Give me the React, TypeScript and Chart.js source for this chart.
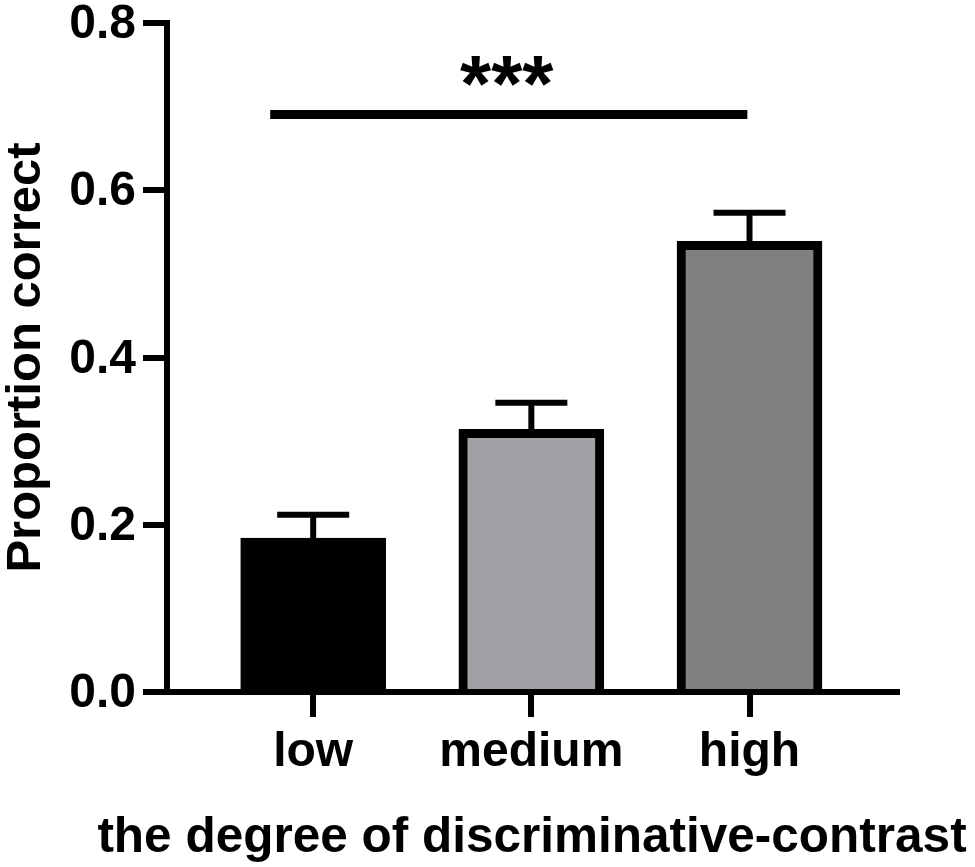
import React, { useEffect, useRef } from "react";
import { Chart, registerables } from "chart.js";

Chart.register(...registerables);

const categories = ["low", "medium", "high"];
const means = [0.184, 0.314, 0.539];
const errors = [0.028, 0.032, 0.034];
const barColors = ["#000000", "#a2a1a6", "#808080"];
const yTicks = [0, 0.2, 0.4, 0.6, 0.8];
const sigFrom = -0.197;
const sigTo = 1.99;
const sigLevel = 0.6906;
const sigLabel = "***";
const xTitle = "the degree of discriminative-contrast";
const yTitle = "Proportion correct";

const FONT = "'Liberation Sans', Arial, sans-serif";

const annotationPlugin = {
  id: "errorAndSig",
  afterDatasetsDraw(chart: any) {
    const { ctx } = chart;
    const x = chart.scales.x;
    const y = chart.scales.y;
    ctx.save();
    ctx.strokeStyle = "#000";
    ctx.lineCap = "butt";
    ctx.lineWidth = 6;
    categories.forEach((_, i) => {
      const px = x.getPixelForValue(i);
      const top = y.getPixelForValue(means[i]);
      const et = y.getPixelForValue(means[i] + errors[i]);
      ctx.beginPath();
      ctx.moveTo(px, top);
      ctx.lineTo(px, et);
      ctx.stroke();
      ctx.beginPath();
      ctx.moveTo(px - 36, et);
      ctx.lineTo(px + 36, et);
      ctx.stroke();
    });
    const sy = y.getPixelForValue(sigLevel);
    const sx1 = x.getPixelForValue(sigFrom);
    const sx2 = x.getPixelForValue(sigTo);
    ctx.lineWidth = 9;
    ctx.beginPath();
    ctx.moveTo(sx1, sy);
    ctx.lineTo(sx2, sy);
    ctx.stroke();
    ctx.fillStyle = "#000";
    ctx.font = `bold 80px ${FONT}`;
    ctx.textAlign = "center";
    ctx.textBaseline = "alphabetic";
    ctx.fillText(sigLabel, (sx1 + sx2) / 2 - 2, sy - 3);
    ctx.restore();
  },
  afterDraw(chart: any) {
    const { ctx, chartArea } = chart;
    ctx.save();
    ctx.fillStyle = "#000";
    ctx.font = `bold 49.5px ${FONT}`;
    ctx.textAlign = "center";
    ctx.textBaseline = "alphabetic";
    ctx.fillText(xTitle, (chartArea.left + chartArea.right) / 2, chart.height - 15);
    ctx.restore();
  },
};

export default function App() {
  const ref = useRef<HTMLCanvasElement | null>(null);
  useEffect(() => {
    if (!ref.current) return;
    Chart.defaults.font.family = FONT;
    const chart = new Chart(ref.current, {
      type: "bar",
      data: {
        datasets: [
          {
            data: means.map((v, i) => ({ x: i, y: v })),
            backgroundColor: barColors,
            borderColor: "#000000",
            borderWidth: 9,
            barThickness: 145,
          } as any,
        ],
      },
      options: {
        animation: false,
        responsive: true,
        maintainAspectRatio: false,
        layout: { padding: { top: 23, right: 78, left: 0, bottom: 0 } },
        plugins: { legend: { display: false }, tooltip: { enabled: false } },
        scales: {
          x: {
            type: "linear",
            offset: false,
            min: -0.67,
            max: 2.676,
            afterBuildTicks: (scale: any) => {
              scale.ticks = categories.map((_, i) => ({ value: i }));
            },
            afterFit: (scale: any) => {
              scale.height = 175;
              scale.paddingLeft = 0;
              scale.paddingRight = 0;
            },
            grid: {
              display: true,
              offset: false,
              drawOnChartArea: false,
              drawTicks: true,
              tickLength: 25,
              lineWidth: 6,
              tickWidth: 6,
              tickColor: "#000",
              color: "#000",
            },
            border: { display: true, width: 6, color: "#000" },
            ticks: {
              autoSkip: false,
              maxRotation: 0,
              padding: 7,
              color: "#000",
              font: { size: 48, weight: "bold" },
              callback: (v: any) => categories[v as number] ?? "",
            },
            title: { display: false },
          },
          y: {
            min: 0,
            max: 0.8,
            afterBuildTicks: (scale: any) => {
              scale.ticks = yTicks.map((v) => ({ value: v }));
            },
            afterFit: (scale: any) => {
              scale.width = 167;
              scale.paddingTop = 0;
              scale.paddingBottom = 0;
            },
            grid: {
              display: true,
              drawOnChartArea: false,
              drawTicks: true,
              tickLength: 24,
              lineWidth: 6,
              tickWidth: 6,
              tickColor: "#000",
              color: "#000",
            },
            border: { display: true, width: 6, color: "#000" },
            ticks: {
              padding: 7,
              labelOffset: 2,
              color: "#000",
              font: { size: 48, weight: "bold" },
              callback: (v: any) => Number(v).toFixed(1),
            },
            title: {
              display: true,
              text: yTitle,
              color: "#000",
              font: { size: 49, weight: "bold", lineHeight: 1 },
              padding: { top: 1.5, bottom: 0 },
            },
          },
        },
      } as any,
      plugins: [annotationPlugin],
    });
    return () => chart.destroy();
  }, []);
  return (
    <div style={{ position: "absolute", left: 0, top: 0, width: 975, height: 867, background: "#fff" }}>
      <canvas ref={ref} />
    </div>
  );
}
